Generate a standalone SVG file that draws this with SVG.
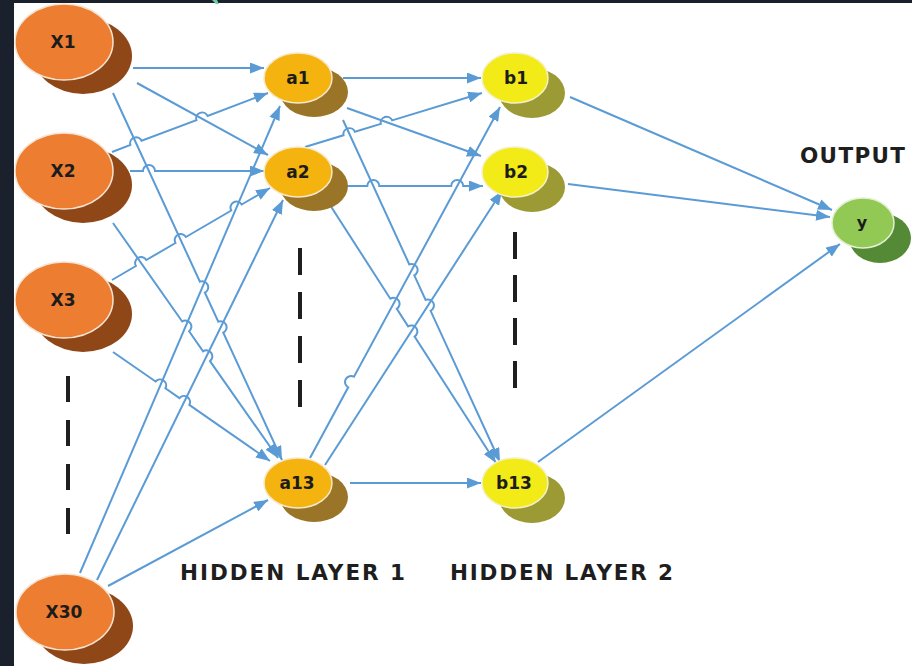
<svg xmlns="http://www.w3.org/2000/svg" width="912" height="666" viewBox="0 0 912 666">
<style>
.e{fill:none;stroke:#5b9bd5;stroke-width:2;marker-end:url(#ah)}
.lbl{font-family:"DejaVu Sans",sans-serif;font-weight:bold;font-size:17px;fill:#1c1c1c;text-anchor:middle}
.hd{font-family:"DejaVu Sans",sans-serif;font-weight:bold;font-size:21.5px;fill:#1e1e1e}
.dash{stroke:#1f1f1f;stroke-width:4;fill:none}
.xf{fill:#ed7d31;stroke:#f6e4d2;stroke-width:1.5}
.xs{fill:#8f4718}
.af{fill:#f5b30f;stroke:#f6e8c8;stroke-width:1.5}
.as{fill:#9a7427}
.bf{fill:#f2eb17;stroke:#f4f0c8;stroke-width:1.5}
.bs{fill:#9c9a35}
.yf{fill:#92c955;stroke:#e4f0d6;stroke-width:1.5}
.ys{fill:#548a35}
</style>
<defs>
<marker id="ah" markerUnits="userSpaceOnUse" markerWidth="14" markerHeight="11" refX="14" refY="5.5" orient="auto">
<path d="M0,0 L14,5.5 L0,11 z" fill="#5b9bd5"/>
</marker>
</defs>
<rect x="0" y="0" width="912" height="666" fill="#1b212c"/>
<rect x="14" y="3" width="898" height="663" fill="#ffffff"/>
<polygon points="212,0 217,0 219,4 216,4" fill="#6fcf9f"/>

<g id="connectors">
<path class="e" d="M133,68 L264,68"/>
<path class="e" d="M137,83 L268,155"/>
<path class="e" d="M113,93 L199.9,281.7 A6 6 0 0 1 204.9,292.6 L218.3,321.7 A6 6 0 0 1 223.3,332.6 L282,460"/>
<path class="e" d="M112,152 L130.4,145.0 A6 6 0 0 1 141.6,140.8 L196.4,120.1 A6 6 0 0 1 207.6,115.9 L268,93"/>
<path class="e" d="M130,171 L143,171 A6 6 0 0 1 155,171 L264,171"/>
<path class="e" d="M113,223 L182.2,321.5 A6 6 0 0 1 189.1,331.3 L203.1,351.3 A6 6 0 0 1 210.0,361.1 L278,458"/>
<path class="e" d="M112,280 L135.9,266.0 A6 6 0 0 1 146.3,260.0 L175.5,243.0 A6 6 0 0 1 185.9,237.0 L231.3,210.5 A6 6 0 0 1 241.7,204.5 L270,188"/>
<path class="e" d="M113,352 L155.6,381.5 A6 6 0 0 1 165.4,388.3 L179.5,398.1 A6 6 0 0 1 189.3,404.9 L270,461"/>
<path class="e" d="M80,573 L280,106"/>
<path class="e" d="M97,580 L283,200"/>
<path class="e" d="M108,586 L268,500"/>

<path class="e" d="M343,78 L481,78"/>
<path class="e" d="M347,108 L481,156"/>
<path class="e" d="M343,120 L409.3,264.4 A6 6 0 0 1 414.3,275.3 L425.6,299.9 A6 6 0 0 1 430.6,310.8 L500,462"/>
<path class="e" d="M305,147 L343.5,135.3 A6 6 0 0 1 354.9,131.8 L380.8,123.9 A6 6 0 0 1 392.2,120.4 L482,93"/>
<path class="e" d="M348,186 L367.3,186 A6 6 0 0 1 379.3,186 L451.2,186 A6 6 0 0 1 463.2,186 L483,186"/>
<path class="e" d="M330,205 L390.3,298.7 A6 6 0 0 1 396.8,308.8 L408.1,326.4 A6 6 0 0 1 414.6,336.5 L496,463"/>
<path class="e" d="M310,458 L348.2,387.3 A6 6 0 0 1 354.0,376.7 L500,107"/>
<path class="e" d="M325,465 L502,191"/>
<path class="e" d="M350,483 L481,483"/>

<path class="e" d="M570,97 L832,210"/>
<path class="e" d="M568,184 L830,217"/>
<path class="e" d="M538,462 L840,244"/>
</g>

<g id="ellipsis-marks">
<line class="dash" x1="68" y1="376" x2="68" y2="534" stroke-dasharray="26 18"/>
<line class="dash" x1="300" y1="248" x2="300" y2="407" stroke-dasharray="27 17"/>
<line class="dash" x1="515" y1="232" x2="515" y2="388" stroke-dasharray="27 16"/>
</g>

<g id="node-x1"><ellipse class="xs" cx="83" cy="56" rx="49" ry="38"/><ellipse class="xf" cx="64" cy="42" rx="49" ry="38"/><text class="lbl" x="63" y="48">X1</text></g>
<g id="node-x2"><ellipse class="xs" cx="83" cy="185" rx="49" ry="38"/><ellipse class="xf" cx="64" cy="171" rx="49" ry="38"/><text class="lbl" x="63" y="177">X2</text></g>
<g id="node-x3"><ellipse class="xs" cx="83" cy="314" rx="49" ry="38"/><ellipse class="xf" cx="64" cy="300" rx="49" ry="38"/><text class="lbl" x="63" y="306">X3</text></g>
<g id="node-x30"><ellipse class="xs" cx="84" cy="626" rx="49" ry="38"/><ellipse class="xf" cx="65" cy="612" rx="49" ry="38"/><text class="lbl" x="64" y="618">X30</text></g>

<g id="node-a1"><ellipse class="as" cx="314" cy="92" rx="34" ry="25"/><ellipse class="af" cx="298" cy="78" rx="34" ry="25"/><text class="lbl" x="298" y="84">a1</text></g>
<g id="node-a2"><ellipse class="as" cx="314" cy="186" rx="34" ry="25"/><ellipse class="af" cx="298" cy="172" rx="34" ry="25"/><text class="lbl" x="298" y="178">a2</text></g>
<g id="node-a13"><ellipse class="as" cx="314" cy="497" rx="34" ry="25"/><ellipse class="af" cx="298" cy="483" rx="34" ry="25"/><text class="lbl" x="297" y="489">a13</text></g>

<g id="node-b1"><ellipse class="bs" cx="532" cy="93" rx="33" ry="25"/><ellipse class="bf" cx="515" cy="78" rx="33" ry="25"/><text class="lbl" x="516" y="84">b1</text></g>
<g id="node-b2"><ellipse class="bs" cx="532" cy="187" rx="33" ry="25"/><ellipse class="bf" cx="515" cy="172" rx="33" ry="25"/><text class="lbl" x="516" y="178">b2</text></g>
<g id="node-b13"><ellipse class="bs" cx="532" cy="498" rx="33" ry="25"/><ellipse class="bf" cx="515" cy="483" rx="33" ry="25"/><text class="lbl" x="514" y="489">b13</text></g>

<g id="node-y"><ellipse class="ys" cx="880" cy="238" rx="31" ry="25"/><ellipse class="yf" cx="863" cy="223" rx="31" ry="25"/><text class="lbl" x="862" y="228" style="font-size:16px">y</text></g>

<g id="labels">
<text class="hd" x="180" y="580" textLength="225" lengthAdjust="spacing">HIDDEN LAYER 1</text>
<text class="hd" x="450" y="580" textLength="223" lengthAdjust="spacing">HIDDEN LAYER 2</text>
<text class="hd" x="800" y="163" textLength="105" lengthAdjust="spacing">OUTPUT</text>
</g>
</svg>
